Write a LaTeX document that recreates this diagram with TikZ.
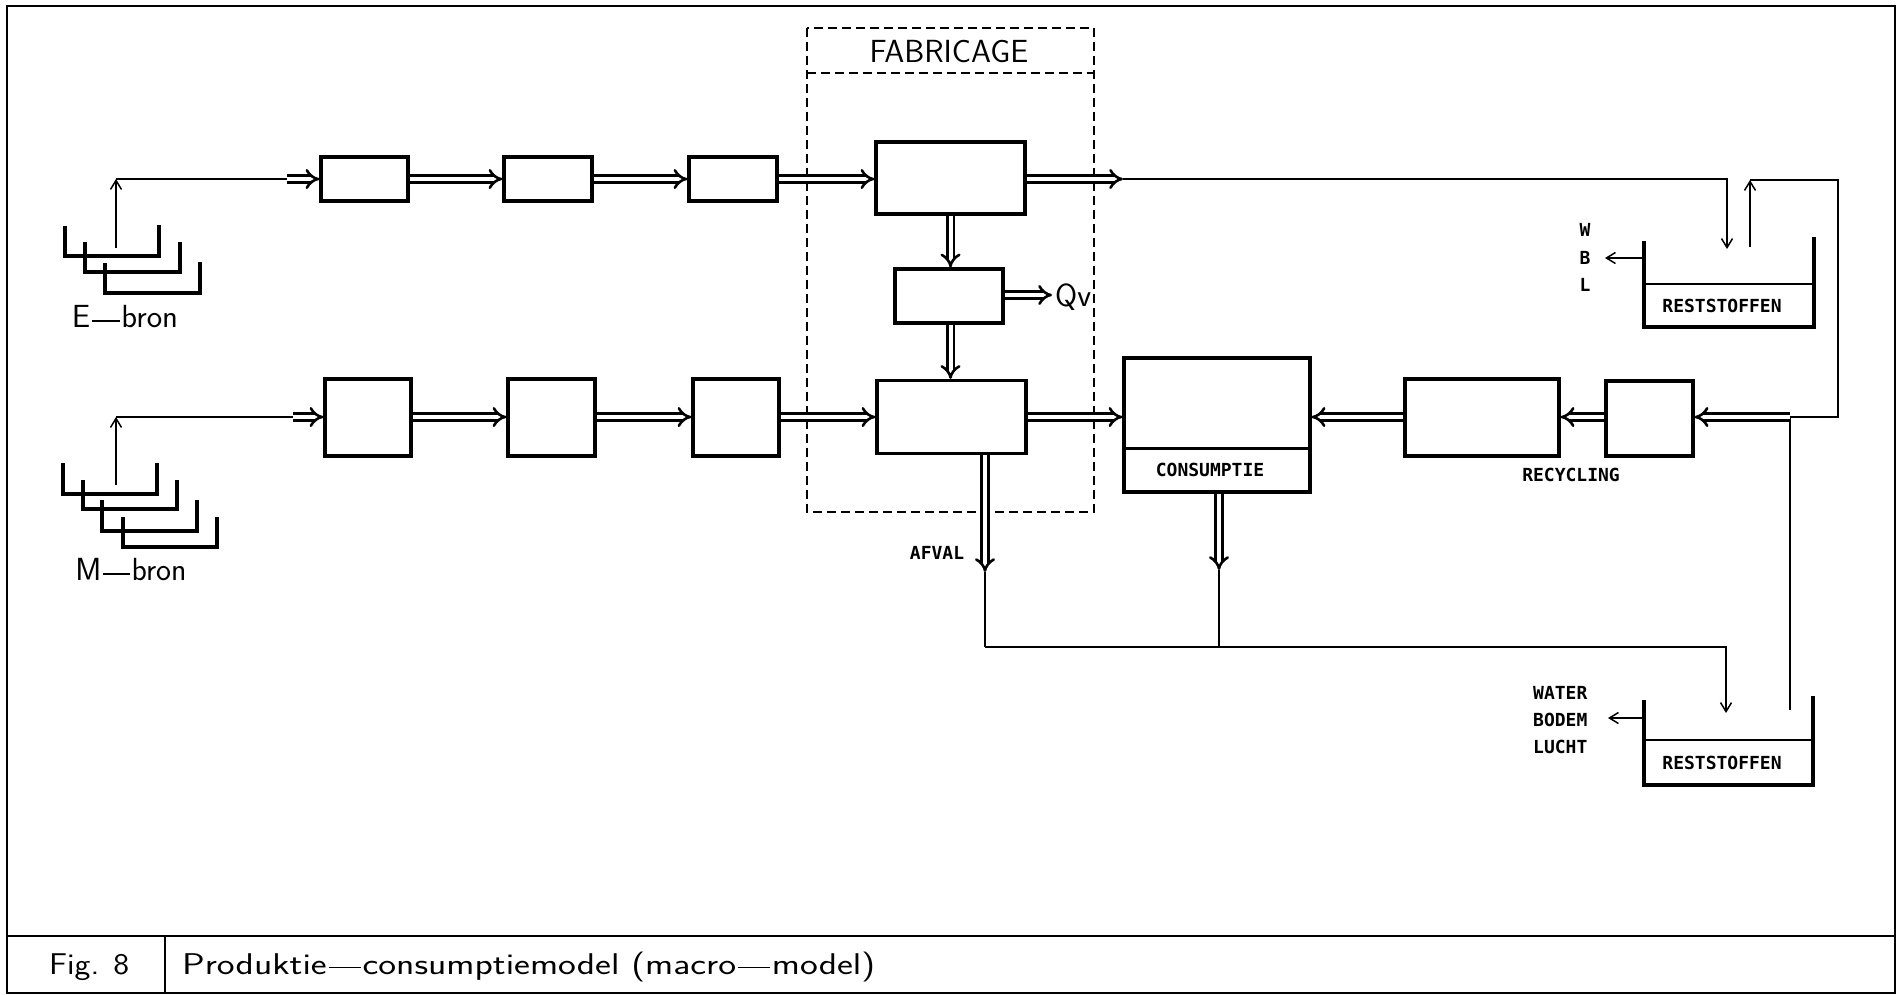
\documentclass[tikz,border=0pt]{standalone}
\usepackage{fontspec}
\newfontfamily\lblfont{DejaVu Sans Mono}
\usetikzlibrary{arrows.meta}
\newcommand\longdash{\kern1.5pt\raisebox{0.2em}{\rule{0.85em}{1.3pt}}\kern1.5pt}
\begin{document}
\begin{tikzpicture}[x=1pt,y=-1pt,
  box/.style={draw, line width=3.3pt, inner sep=0pt, minimum width=#1},
  box/.default=88pt,
  dbl/.style={double, double distance=4pt, line width=2.6pt, -{Implies}},
  thinline/.style={line width=1.5pt},
  tarrow/.style={line width=1.5pt, -{Straight Barb[length=9pt,width=11pt,line width=1.5pt]}},
  bracketline/.style={line width=3.3pt},
  lbl/.style={font=\lblfont\bfseries\fontsize{18}{20}\selectfont, inner sep=0pt},
  bigtext/.style={font=\sffamily\fontsize{32}{36}\selectfont, inner sep=0pt},
  captext/.style={font=\sffamily\fontsize{30}{34}\selectfont, inner sep=0pt, anchor=base west}
]
\useasboundingbox (0,0) rectangle (1900,994);

% outer frame and caption
\draw[line width=2pt] (7,6) rectangle (1895,993);
\draw[line width=2pt] (7,936) -- (1895,936);
\draw[line width=1.6pt] (165,936) -- (165,993);
\node[captext] (fig) at (49,974) {\resizebox{80pt}{\height}{Fig. 8}};
\node[captext] (caption) at (182,974) {\resizebox{693pt}{\height}{Produktie\longdash consumptiemodel (macro\longdash model)}};

% fabricage dashed frame
\draw[line width=1.6pt, dash pattern=on 9pt off 5pt] (807,28) rectangle (1094,512);
\draw[line width=1.6pt, dash pattern=on 9pt off 5pt] (807,73) -- (1094,73);
\node[bigtext] (fabr) at (949,52) {FABRICAGE};

% E row boxes
\node[box=87pt, minimum height=44pt] (e1) at (364.5,179) {};
\node[box=88pt, minimum height=44pt] (e2) at (548,179) {};
\node[box=88pt, minimum height=44pt] (e3) at (733,179) {};
\node[box=149pt, minimum height=72pt] (fabtop) at (950.5,178) {};
\node[box=108pt, minimum height=54pt] (mid) at (949,296) {};

% M row boxes
\node[box=86pt, minimum height=77pt] (m1) at (368,417.5) {};
\node[box=87pt, minimum height=77pt] (m2) at (551.5,417.5) {};
\node[box=86pt, minimum height=77pt] (m3) at (736,417.5) {};
\node[box=149pt, minimum height=73pt] (fablow) at (951.5,417) {};

% consumptie
\node[box=186pt, minimum height=134pt] (cons) at (1217,425) {};
\draw[line width=3pt] (cons.west |- 0,448) -- (cons.east |- 0,448);
\node[lbl] (consl) at (1210,470) {CONSUMPTIE};

% recycling
\node[box=154pt, minimum height=77pt] (rec1) at (1482,417.5) {};
\node[box=87pt, minimum height=75pt] (rec2) at (1649.5,418.5) {};
\node[lbl] (recl) at (1571,475) {RECYCLING};

% sources
\draw[bracketline] (65,226) -- (65,256) -- (159,256) -- (159,225);
\draw[bracketline] (85,242) -- (85,272) -- (180,272) -- (180,242);
\draw[bracketline] (105,263) -- (105,293) -- (200,293) -- (200,262);
\node[bigtext] (ebron) at (125,317) {\resizebox{106pt}{\height}{E\longdash bron}};
\draw[bracketline] (63,463) -- (63,494) -- (157,494) -- (157,463);
\draw[bracketline] (83,480) -- (83,509) -- (177,509) -- (177,480);
\draw[bracketline] (102,500) -- (102,531) -- (197,531) -- (197,500);
\draw[bracketline] (123,517) -- (123,547) -- (217,547) -- (217,517);
\node[bigtext] (mbron) at (131,570) {\resizebox{111pt}{\height}{M\longdash bron}};

% tanks
\coordinate (t1) at (1644,241);
\draw[bracketline] (t1) -- (1644,327) -- (1814,327) -- (1814,237);
\draw[line width=2.4pt] (1644,284) -- (1814,284);
\node[lbl] (rs1) at (1722,306) {RESTSTOFFEN};
\coordinate (t2) at (1644,700);
\draw[bracketline] (t2) -- (1644,785) -- (1813,785) -- (1813,696);
\draw[line width=2.4pt] (1644,740) -- (1813,740);
\node[lbl] (rs2) at (1722,763) {RESTSTOFFEN};

\node[lbl] (w) at (1585,230) {W};
\node[lbl] (b) at (1585,258) {B};
\node[lbl] (l) at (1585,285) {L};
\node[lbl, anchor=west] (water) at (1533,693) {WATER};
\node[lbl, anchor=west] (bodem) at (1533,720) {BODEM};
\node[lbl, anchor=west] (lucht) at (1533,747) {LUCHT};
\draw[tarrow] (1644,258) -- (1605,258);
\draw[tarrow] (1644,718) -- (1608,718);

% source connectors
\coordinate (es) at (116,248);
\coordinate (ec) at (116,179);
\coordinate (ed) at (287,179);
\draw[tarrow] (es) -- (ec);
\draw[thinline] (ec) -- (ed);
\draw[dbl] (ed) -- (e1.west);
\coordinate (ms) at (116,485);
\coordinate (mc) at (116,417);
\coordinate (md) at (293,417);
\draw[tarrow] (ms) -- (mc);
\draw[thinline] (mc) -- (md);
\draw[dbl] (md) -- (m1.west |- md);

% E row flow
\draw[dbl] (e1.east) -- (e2.west);
\draw[dbl] (e2.east) -- (e3.west);
\draw[dbl] (e3.east) -- (e3.east -| fabtop.west);
\draw[dbl] (fabtop.south) -- (mid.north -| fabtop.south);
\draw[dbl] (mid.south -| fabtop.south) -- (fablow.north -| fabtop.south);
\coordinate (qv) at (1052,295);
\draw[dbl] (mid.east |- qv) -- (qv);
\node[bigtext, anchor=west] (qvl) at (1055,297) {Qv};
\coordinate (fo) at (1123,179);
\draw[dbl] (fabtop.east |- fo) -- (fo);
\coordinate (t1a) at (1727,249);
\draw[tarrow] (fo) -- (1727,179) -- (t1a);

% M row flow
\draw[dbl] (m1.east |- md) -- (m2.west |- md);
\draw[dbl] (m2.east |- md) -- (m3.west |- md);
\draw[dbl] (m3.east |- md) -- (fablow.west |- md);
\draw[dbl] (fablow.east |- md) -- (cons.west |- md);

% recycling loop
\coordinate (t1b) at (1750,247);
\coordinate (up) at (1750,180);
\coordinate (rj) at (1790,417);
\coordinate (t2b) at (1790,710);
\draw[tarrow] (t1b) -- (up);
\draw[thinline] (up) -- (1838,180) -- (1838,417) -- (rj);
\draw[thinline] (rj) -- (t2b);
\draw[dbl] (rj) -- (rec2.east |- rj);
\draw[dbl] (rec2.west |- rj) -- (rec1.east |- rj);
\draw[dbl] (rec1.west |- rj) -- (cons.east |- rj);

% waste
\coordinate (af) at (985,572);
\draw[dbl] (fablow.south -| af) -- (af);
\node[lbl] (afval) at (937,553) {AFVAL};
\coordinate (co) at (1219,570);
\draw[dbl] (cons.south -| co) -- (co);
\coordinate (j1) at (985,647);
\coordinate (t2a) at (1726,713);
\draw[thinline] (af) -- (j1);
\draw[thinline] (co) -- (co |- j1);
\draw[tarrow] (j1) -- (1726,647) -- (t2a);
\end{tikzpicture}
\end{document}
